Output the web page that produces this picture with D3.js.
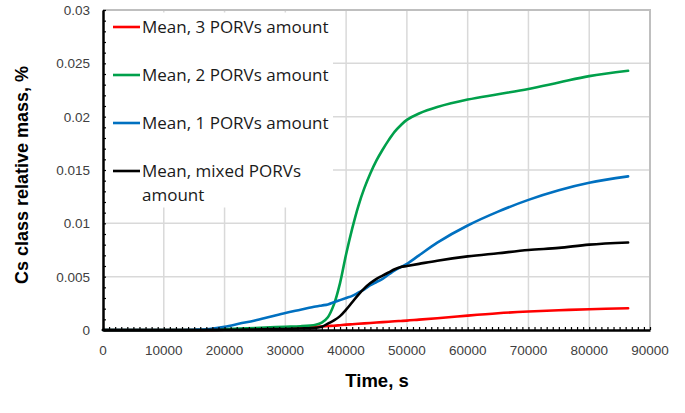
<!DOCTYPE html>
<html>
<head>
<meta charset="utf-8">
<script src="https://cdn.jsdelivr.net/npm/d3@7"></script>
<style>
  html, body { margin: 0; padding: 0; background: #fff; }
  svg { display: block; }
</style>
</head>
<body>
<svg id="chart" width="685" height="413"></svg>
<script>
// ---- data ----
const time = [0, 10000, 15000, 17500, 20000, 22500, 25000, 27500, 30000, 32500, 35000, 36000, 37000, 38000, 39000, 40000, 41000, 42000, 43000, 44000, 45000, 46000, 47000, 48000, 49000, 50000, 52000, 55000, 60000, 65000, 70000, 75000, 80000, 86400];

const mean3 = [0, 0, 0, 0.00001, 0.00003, 0.00006, 0.0001, 0.00014, 0.00018, 0.00024, 0.0003, 0.00033, 0.00037, 0.0004, 0.00045, 0.0005, 0.00054, 0.00058, 0.00062, 0.00066, 0.0007, 0.00074, 0.00078, 0.00082, 0.00085, 0.00088, 0.00097, 0.0011, 0.00135, 0.00157, 0.00173, 0.00185, 0.00195, 0.00204];

const mean2 = [0, 0, 0, 0.00003, 0.00008, 0.00013, 0.00019, 0.00025, 0.0003, 0.00035, 0.0005, 0.0007, 0.0012, 0.0024, 0.0044, 0.0071, 0.0095, 0.0116, 0.0133, 0.0147, 0.0159, 0.0169, 0.0178, 0.0186, 0.0192, 0.0197, 0.0203, 0.0209, 0.0216, 0.0221, 0.0226, 0.0232, 0.0238, 0.0243];

const mean1 = [0, 0, 0.00003, 0.0001, 0.0003, 0.0006, 0.0009, 0.00125, 0.0016, 0.0019, 0.0022, 0.0023, 0.0024, 0.0026, 0.0028, 0.003, 0.0032, 0.0035, 0.0038, 0.0042, 0.0045, 0.0048, 0.0052, 0.0056, 0.0059, 0.0062, 0.007, 0.0082, 0.0098, 0.0111, 0.0122, 0.0131, 0.0138, 0.0144];

const meanMixed = [0, 0, 0, 0.00001, 0.00002, 0.00003, 0.00005, 0.00008, 0.0001, 0.00014, 0.0002, 0.0003, 0.0006, 0.0009, 0.0013, 0.0019, 0.0026, 0.0033, 0.0039, 0.0044, 0.0048, 0.0051, 0.0054, 0.0057, 0.0059, 0.006, 0.0062, 0.0065, 0.0069, 0.0072, 0.0075, 0.0077, 0.008, 0.0082];

const seriesNames = ["Mean, 3 PORVs amount", "Mean, 2 PORVs amount", "Mean, 1 PORVs amount", "Mean, mixed PORVs amount"];
const seriesColors = ["#ff0000", "#00a04b", "#0070c0", "#000000"];
const seriesValues = [mean3, mean2, mean1, meanMixed];

const xTicks = [0, 10000, 20000, 30000, 40000, 50000, 60000, 70000, 80000, 90000];
const yTicks = [0, 0.005, 0.01, 0.015, 0.02, 0.025, 0.03];
const yTickLabels = ["0", "0.005", "0.01", "0.015", "0.02", "0.025", "0.03"];

const xTitle = "Time, s";
const yTitle = "Cs class relative mass, %";

// ---- layout ----
const svg = d3.select("#chart");
const margin = { left: 103, top: 10, right: 35, bottom: 83 };
const W = 685, H = 413;
const x = d3.scaleLinear().domain([0, 90000]).range([margin.left, W - margin.right]);
const y = d3.scaleLinear().domain([0, 0.03]).range([H - margin.bottom, margin.top]);

const gridColor = "#d9d9d9";
const labelFont = "'Liberation Sans', Arial, sans-serif";

// gridlines
const grid = svg.append("g");
grid.selectAll("line.v").data(xTicks.slice(1)).join("line")
  .attr("x1", d => x(d)).attr("x2", d => x(d))
  .attr("y1", y(0.03)).attr("y2", y(0))
  .attr("stroke", gridColor).attr("stroke-width", 1.5);
grid.selectAll("line.h").data(yTicks.slice(1)).join("line")
  .attr("x1", x(0)).attr("x2", x(90000))
  .attr("y1", d => y(d)).attr("y2", d => y(d))
  .attr("stroke", gridColor).attr("stroke-width", 1.5);
// outer frame (top/right)
svg.append("path")
  .attr("d", `M${x(0)},${y(0.03)}H${x(90000)}V${y(0)}`)
  .attr("fill", "none").attr("stroke", "#bfbfbf").attr("stroke-width", 2);

// legend background box (covers the grid)
const legX0 = x(0) + 1, legY0 = y(0.03) + 2.5;
svg.append("rect")
  .attr("x", legX0).attr("y", legY0)
  .attr("width", 229).attr("height", 195)
  .attr("fill", "#fff");

// lines
const line = d3.line()
  .x((d, i) => x(time[i]))
  .y(d => y(d))
  .curve(d3.curveCatmullRom.alpha(0.5));

svg.append("g").selectAll("path").data(seriesValues).join("path")
  .attr("d", d => line(d))
  .attr("fill", "none")
  .attr("stroke", (d, i) => seriesColors[i])
  .attr("stroke-width", 2.6)
  .attr("stroke-linejoin", "round")
  .attr("stroke-linecap", "round");

// axes
const xAxis = d3.axisBottom(x).tickValues(d3.range(0, 90001, 1000))
  .tickSizeInner(-3).tickSizeOuter(0).tickFormat("");
const gx = svg.append("g").attr("transform", `translate(0,${y(0)})`).call(xAxis);
gx.select(".domain").attr("stroke", "#000").attr("stroke-width", 2.5);
gx.selectAll(".tick line").attr("stroke", "#000").attr("stroke-width", 1.2);

const yAxis = d3.axisLeft(y).tickValues(d3.range(0, 31).map(i => i * 0.001))
  .tickSizeInner(-3).tickSizeOuter(0).tickFormat("");
const gy = svg.append("g").attr("transform", `translate(${x(0)},0)`).call(yAxis);
gy.select(".domain").attr("stroke", "#000").attr("stroke-width", 2.5);
gy.selectAll(".tick line").attr("stroke", "#000").attr("stroke-width", 1.2);

// tick labels
svg.append("g").selectAll("text").data(xTicks).join("text")
  .attr("x", d => x(d)).attr("y", y(0) + 25)
  .attr("text-anchor", "middle")
  .attr("font-family", labelFont).attr("font-size", 13.5)
  .attr("fill", "#404040")
  .text(d => String(d));

svg.append("g").selectAll("text").data(yTicks).join("text")
  .attr("x", x(0) - 13).attr("y", d => y(d) + 5)
  .attr("text-anchor", "end")
  .attr("font-family", labelFont).attr("font-size", 13.5)
  .attr("fill", "#404040")
  .text((d, i) => yTickLabels[i]);

// axis titles
svg.append("text")
  .attr("x", 377).attr("y", 387)
  .attr("text-anchor", "middle")
  .attr("font-family", labelFont).attr("font-weight", "bold").attr("font-size", 18.5)
  .attr("fill", "#000")
  .text(xTitle);

svg.append("text")
  .attr("transform", `translate(28,175) rotate(-90)`)
  .attr("text-anchor", "middle")
  .attr("font-family", labelFont).attr("font-weight", "bold").attr("font-size", 18)
  .attr("fill", "#000")
  .text(yTitle);

// legend
const legendFont = "'Open Sans', 'Liberation Sans', sans-serif";
const legRowY = [27, 75, 123, 171];
const leg = svg.append("g");
seriesNames.forEach((name, i) => {
  const cy = legRowY[i];
  leg.append("line")
    .attr("x1", 113).attr("x2", 140)
    .attr("y1", cy).attr("y2", cy)
    .attr("stroke", seriesColors[i]).attr("stroke-width", 2.6);
  const t = leg.append("text")
    .attr("x", 142).attr("y", cy + 6)
    .attr("font-family", legendFont).attr("font-size", 17)
    .attr("fill", "#1a1a1a");
  if (i === 3) {
    t.append("tspan").attr("x", 142).attr("dy", 0).text("Mean, mixed PORVs");
    t.append("tspan").attr("x", 142).attr("dy", 24).text("amount");
  } else {
    t.text(name);
  }
});
</script>
</body>
</html>
